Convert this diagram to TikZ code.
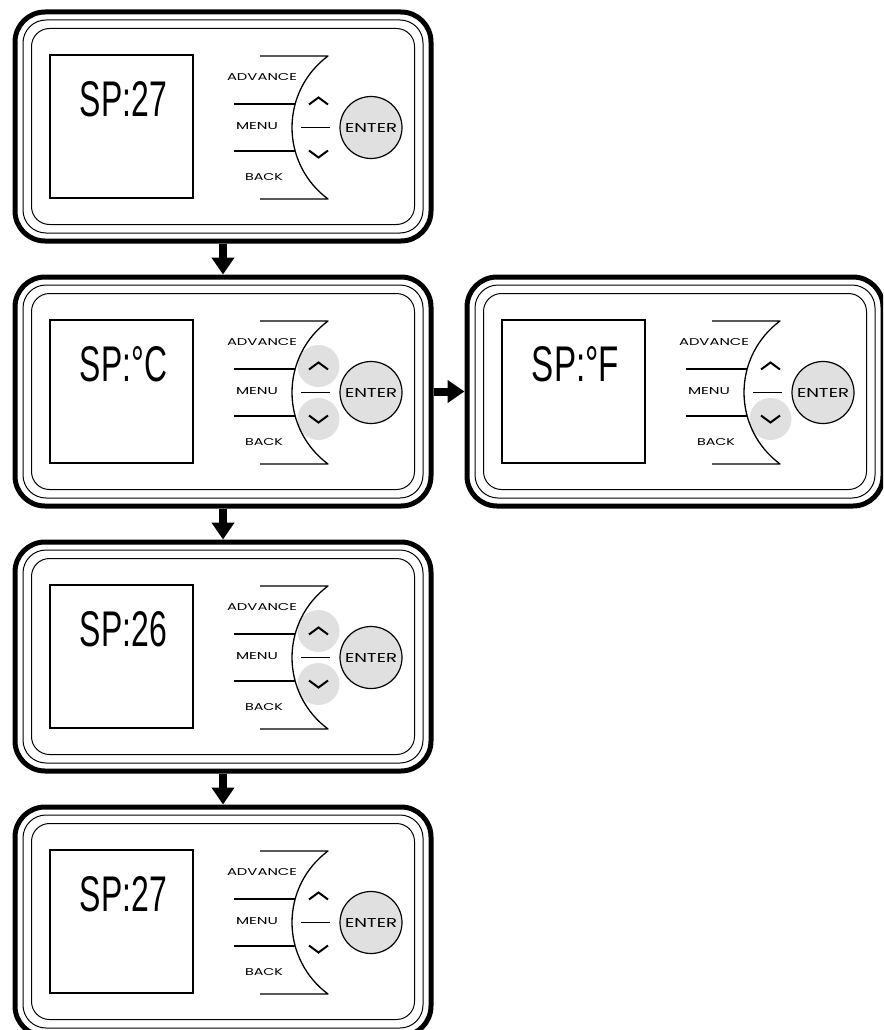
\documentclass[tikz,border=0pt]{standalone}
\usepackage{fontspec}
\usepackage{graphicx}
\setmainfont{Poppins}
\newfontfamily\lcdfont{Liberation Sans}
\usetikzlibrary{arrows.meta}
\definecolor{btngray}{RGB}{224,224,224}
\tikzset{
 devbox/.style={draw, line width=5pt, rounded corners=30pt, minimum width=416pt, minimum height=229pt, inner sep=0pt},
 ring/.style={draw, line width=1pt},
 lcd/.style={draw, line width=1.4pt},
 panel/.style={draw, line width=1.3pt, line join=round},
 chev/.style={draw, line width=2pt},
 hilite/.style={fill=btngray},
 enterbtn/.style={circle, draw, line width=1.2pt, fill=btngray, minimum size=62pt, inner sep=0pt},
 lbl/.style={inner sep=0pt},
 lcdtxt/.style={inner sep=0pt},
 flowarrow/.style={line width=8pt, -{Triangle[width=22pt,length=17pt]}},
}
\newcommand\lblbox[3]{\resizebox{#1pt}{#2pt}{#3}}
\newcommand\device[6]{%
\begin{scope}[shift={(#2,#3)}]
 \node[devbox] (#1) at (208,114.5) {};
 \draw[ring, rounded corners=23pt] (8,8) rectangle (408,221);
 \draw[ring, rounded corners=18pt] (16.5,16.5) rectangle (399.5,212.5);
 \draw[lcd] (35,43) rectangle (178,186);
 \node[lcdtxt] (#1-lcd) at (108.5,87.5) {\resizebox{87pt}{35pt}{\lcdfont #4}};
 \ifnum#5=1 \fill[hilite] (303.5,89) circle[radius=21]; \fi
 \ifnum#6=1 \fill[hilite] (303.5,142) circle[radius=21]; \fi
 \draw[panel] (245,44) -- (313,44) .. controls (290.3,60.8) and (277,87.3) .. (277,115.5)
   .. controls (277,143.7) and (290.3,170.2) .. (313,187) -- (245,187);
 \draw[panel] (219,92) -- (280,92);
 \draw[panel] (219,139) -- (280,139);
 \draw[panel] (286,115.5) -- (315,115.5);
 \draw[chev] (294,92.5) -- (303.5,85.5) -- (313,92.5);
 \draw[chev] (294,138.5) -- (303.5,145.5) -- (313,138.5);
 \node[lbl] (#1-adv) at (247,65) {\lblbox{70}{7}{ADVANCE}};
 \node[lbl] (#1-menu) at (242,114) {\lblbox{42}{7}{MENU}};
 \node[lbl] (#1-back) at (249,165) {\lblbox{38}{7}{BACK}};
 \node[enterbtn] (#1-enter) at (356,115.5) {\lblbox{52}{9}{ENTER}};
\end{scope}}
\begin{document}
\begin{tikzpicture}[x=1pt,y=-1pt]
\useasboundingbox (0,0) rectangle (883,1030);
\fill[white] (0,0) rectangle (883,1030);
\clip (0,0) rectangle (883,1030);
\device{d1}{15}{12}{SP:27}{0}{0}
\device{d2}{15}{277}{SP:°C}{1}{1}
\device{d3}{15}{542}{SP:26}{1}{1}
\device{d4}{15}{807}{SP:27}{0}{0}
\device{d5}{467}{277}{SP:°F}{0}{1}
\draw[flowarrow] (d1.south) -- (d2.north);
\draw[flowarrow] (d2.south) -- (d3.north);
\draw[flowarrow] (d3.south) -- (d4.north);
\draw[flowarrow] (d2.east) -- (d5.west);
\end{tikzpicture}
\end{document}
